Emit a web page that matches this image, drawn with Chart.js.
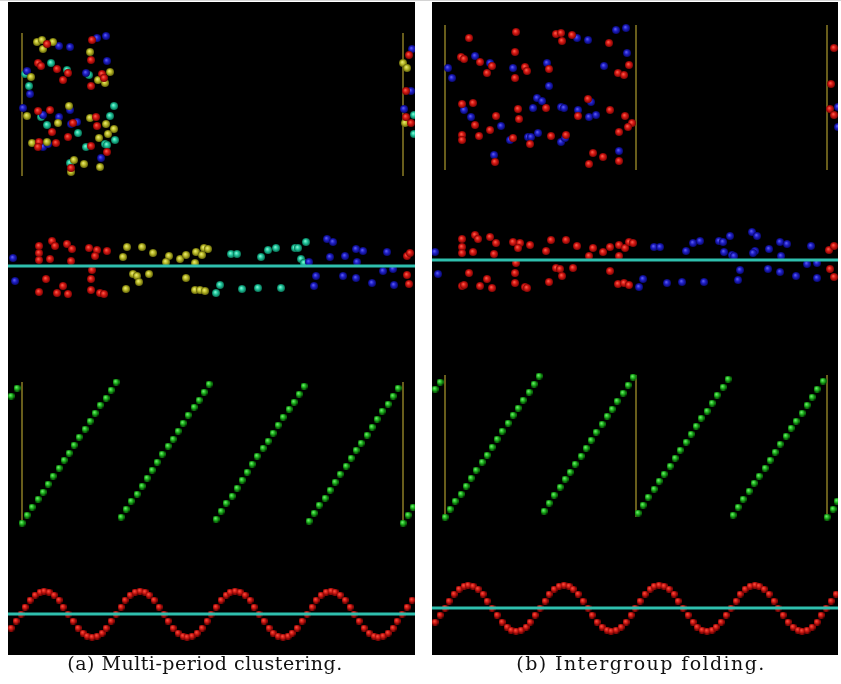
<!DOCTYPE html>
<html>
<head>
<meta charset="utf-8">
<script src="https://cdn.jsdelivr.net/npm/chart.js@4.4.1/dist/chart.umd.min.js"></script>
<style>
  html, body { margin: 0; padding: 0; background: #fff; }
  #wrap { position: relative; width: 841px; height: 684px; overflow: hidden; border-top: 1px solid #d4d4d4; box-sizing: border-box; }
  .panel { position: absolute; top: 1px; height: 653px; background: #000; }
  .panel canvas { display: block; }
  #panelA { left: 8px; width: 407px; }
  #panelB { left: 432px; width: 406px; }
  .caption { position: absolute; top: 651px; font-family: "DejaVu Serif", serif; font-size: 19px; letter-spacing: 0.5px; color: #111; text-align: center; white-space: nowrap; }
</style>
</head>
<body>
<div id="wrap">
  <div class="panel" id="panelA"><canvas id="chartA" width="407" height="653"></canvas></div>
  <div class="panel" id="panelB"><canvas id="chartB" width="406" height="653"></canvas></div>
  <div class="caption" style="left:0;width:410px;">(a) Multi-period clustering.</div>
  <div class="caption" style="left:432px;width:418px;letter-spacing:1.4px;">(b) Intergroup folding.</div>
</div>
<script>
// all values are picture coordinates (x to the right, y downwards), flat x,y lists

// ---- panel (a) ----
const redA = [
  47,44, 92,40, 38,63, 41,66, 91,60, 57,69, 68,73, 102,74, 104,78, 63,80, 91,86, 38,111, 50,110, 96,117,
  73,123, 97,126, 52,132, 68,137, 39,142, 38,147, 56,143, 91,146, 107,152, 71,168,
  409,55, 406,91, 406,117, 411,123,
  39,246, 52,241, 55,246, 39,253, 39,260, 50,259, 67,244, 72,249, 71,261, 89,248, 97,250, 95,256, 107,251,
  92,270, 46,279, 91,279, 63,286, 39,292, 57,293, 68,294, 91,290, 100,293, 104,294,
  407,256, 410,253, 407,275, 409,284
];
const yellowA = [
  37,42, 42,40, 53,42, 43,49, 90,52, 110,72, 31,77, 98,80, 105,83, 69,106, 27,116, 90,118, 58,123, 106,124,
  114,129, 108,134, 99,138, 32,143, 47,142, 74,160, 84,164, 100,167, 71,172,
  403,63, 407,68, 405,123,
  127,247, 142,247, 123,257, 153,253, 169,256, 166,262, 180,259, 186,255, 196,252, 202,255, 204,248, 208,249,
  195,263, 133,274, 137,276, 149,274, 139,282, 186,278, 126,289, 195,290, 200,290, 205,291
];
const blueA = [
  59,46, 70,47, 97,38, 106,36, 107,61, 27,71, 86,73, 30,94, 23,108, 43,115, 59,117, 71,124, 77,122, 43,147,
  48,144, 101,158, 70,110,
  412,49, 411,91, 404,109,
  13,258, 15,281, 327,239, 333,242, 330,257, 309,262, 345,256, 356,249, 363,251, 357,262, 387,252, 316,276,
  314,286, 343,276, 356,278, 372,283, 383,271, 393,269, 394,285
];
const cyanA = [
  51,63, 67,70, 25,74, 89,75, 29,86, 114,106, 41,117, 110,116, 47,125, 78,133, 115,140, 105,144, 107,145,
  86,147, 70,163,
  414,115, 414,134,
  220,285, 216,293, 231,254, 237,254, 242,289, 258,288, 261,257, 268,250, 276,248, 295,248, 298,248, 306,242,
  301,259, 304,263, 281,288
];
const greenA = [
  11,396, 17,388,
  22,523, 27,515, 32,507, 38,499, 43,492, 48,484, 53,476, 59,468, 64,460, 69,453, 74,445, 79,437, 85,429,
  90,421, 95,413, 100,405, 106,398, 111,390, 116,382,
  121,517, 126,509, 131,501, 137,494, 142,486, 147,478, 152,470, 157,462, 162,454, 168,446, 173,439, 178,431,
  183,423, 188,415, 194,407, 199,400, 204,392, 209,384,
  216,519, 221,511, 226,503, 232,496, 237,488, 242,480, 247,472, 252,464, 257,456, 263,448, 268,441, 273,433,
  278,425, 283,417, 289,409, 294,402, 299,394, 304,386,
  309,521, 314,513, 319,505, 325,498, 330,490, 335,482, 340,474, 346,466, 351,458, 356,450, 361,443, 367,435,
  372,427, 377,419, 382,411, 388,404, 393,396, 398,388,
  403,523, 408,515, 413,507
];
const sineXA = [
  11,16,21,25,30,35,40,44,49,54,59,63,68,73,78,83,87,92,97,102,
  106,111,116,121,125,130,135,140,145,149,154,159,164,168,173,178,183,187,192,197,
  202,207,211,216,221,226,230,235,240,245,250,254,259,264,269,273,278,283,288,292,
  297,302,307,312,316,321,326,331,335,340,345,350,354,359,364,369,374,378,383,388,
  393,397,402,407,412
];
const sineYA = [
  628,621,
  614,607,600,595,592,591,592,595,600,607,614,621,628,633,636,637,636,633,628,621,
  614,607,600,595,592,591,592,595,600,607,614,621,628,633,636,637,636,633,628,621,
  614,607,600,595,592,591,592,595,600,607,614,621,628,633,636,637,636,633,628,621,
  614,607,600,595,592,591,592,595,600,607,614,621,628,633,636,637,636,633,628,621,
  614,607,600
];
const levelsA = [266, 614];
const wallsA = [22, 403];
const wallSpansA = [[33, 176], [382, 522]];

// ---- panel (b) ----
const redB = [
  469,38, 516,32, 556,34, 561,33, 562,41, 572,35, 609,43, 461,57, 464,59, 480,62, 492,66, 487,73, 515,52,
  525,67, 527,71, 515,78, 549,69, 629,65, 618,73, 624,75, 462,104, 473,103, 496,116, 518,109, 519,119,
  546,108, 588,99, 578,116, 610,110, 625,116, 632,123, 628,127, 619,132, 475,125, 490,130, 462,135, 462,140,
  479,136, 513,138, 530,144, 551,136, 566,135, 495,162, 593,153, 589,164, 603,157, 619,161,
  834,48, 831,84, 830,109, 834,115,
  462,239, 462,247, 462,253, 475,235, 478,239, 490,237, 496,243, 473,252, 494,254, 513,242, 520,243, 518,248,
  530,245, 551,240, 546,251, 566,240, 577,246, 593,248, 589,256, 603,252, 610,247, 619,245, 625,248, 629,242,
  633,243, 619,256, 516,263, 469,273, 515,273, 556,268, 560,269, 562,276, 573,268, 610,271, 487,279, 462,286,
  464,285, 480,286, 492,288, 515,283, 525,287, 527,288, 549,282, 618,284, 624,283, 629,285,
  829,250, 834,246, 830,269, 834,277
];
const blueB = [
  616,30, 626,28, 577,38, 588,40, 475,56, 490,63, 513,68, 547,63, 448,68, 452,78, 549,86, 604,66, 627,53,
  537,98, 542,101, 464,110, 533,108, 561,107, 564,108, 578,110, 591,102, 589,117, 596,115, 471,117, 501,126,
  510,140, 528,137, 531,137, 538,133, 561,142, 565,138, 494,155, 619,151,
  838,107, 838,127,
  435,252, 438,274, 639,287, 643,279, 654,247, 660,247, 667,283, 682,282, 686,251, 693,243, 700,241, 704,282,
  719,241, 723,242, 730,236, 724,252, 732,255, 734,256, 740,270, 738,280, 752,232, 757,236, 755,251, 753,253,
  769,249, 768,269, 780,242, 787,244, 781,256, 780,272, 796,276, 811,246, 807,264, 817,263, 817,278
];
const greenB = [
  435,389, 440,382,
  445,517, 450,509, 455,501, 461,494, 466,486, 471,478, 476,470, 482,462, 487,455, 492,447, 497,439, 502,431,
  508,423, 513,415, 518,408, 523,400, 529,392, 534,384, 539,376,
  544,511, 549,503, 554,495, 560,487, 565,479, 570,472, 575,464, 581,456, 586,448, 591,440, 596,432, 602,424,
  607,416, 612,409, 617,401, 623,393, 628,385, 633,377,
  638,513, 643,505, 648,497, 654,489, 659,481, 664,474, 670,466, 675,458, 680,450, 686,442, 691,434, 696,426,
  701,418, 707,411, 712,403, 717,395, 723,387, 728,379,
  733,515, 738,507, 743,499, 749,491, 754,483, 759,476, 765,468, 770,460, 775,452, 780,444, 786,436, 791,428,
  796,421, 802,413, 807,405, 812,397, 817,389, 823,381,
  827,517, 833,509, 837,501
];
const sineXB = [
  435,440,445,449,454,459,464,468,473,478,483,487,492,497,502,507,511,516,521,526,
  530,535,540,545,549,554,559,564,569,573,578,583,588,592,597,602,607,611,616,621,
  626,631,635,640,645,650,654,659,664,669,674,678,683,688,693,697,702,707,712,716,
  721,726,731,736,740,745,750,755,759,764,769,774,778,783,788,793,798,802,807,812,
  817,821,826,831,836
];
const sineYB = [
  622,615,
  608,601,594,589,586,585,586,589,594,601,608,615,622,627,630,631,630,627,622,615,
  608,601,594,589,586,585,586,589,594,601,608,615,622,627,630,631,630,627,622,615,
  608,601,594,589,586,585,586,589,594,601,608,615,622,627,630,631,630,627,622,615,
  608,601,594,589,586,585,586,589,594,601,608,615,622,627,630,631,630,627,622,615,
  608,601,594
];
const levelsB = [260, 608];
const wallsB = [445, 636, 827];
const wallSpansB = [[25, 170], [375, 517]];

// shaded little spheres
function makeBall(stops, size) {
  const c = document.createElement('canvas');
  c.width = c.height = size;
  const g = c.getContext('2d');
  const r = size / 2;
  const grad = g.createRadialGradient(r * 0.8, r * 0.75, 0.3, r, r, r);
  grad.addColorStop(0, stops[0]);
  grad.addColorStop(0.45, stops[1]);
  grad.addColorStop(1, stops[2]);
  g.fillStyle = grad;
  g.beginPath();
  g.arc(r, r, r, 0, Math.PI * 2);
  g.fill();
  return c;
}
const red = ['#f85a4a', '#d81a14', '#7a0404'];
const blue = ['#5a5af0', '#2020c8', '#08086a'];
const yellow = ['#e8e870', '#bcbc2a', '#62620a'];
const cyan = ['#80f4d4', '#22c89e', '#086a50'];
const green = ['#80f080', '#22c022', '#086008'];
const balls = {
  red: makeBall(red, 8),
  blue: makeBall(blue, 8),
  yellow: makeBall(yellow, 8),
  cyan: makeBall(cyan, 8),
  green: makeBall(green, 7),
  wave: makeBall(red, 7)
};

function pairs(flat) {
  const out = [];
  for (let i = 0; i < flat.length; i += 2) out.push({ x: flat[i], y: flat[i + 1] });
  return out;
}
function zip(xs, ys) {
  return xs.map((x, i) => ({ x: x, y: ys[i] }));
}
function dots(data, ball) {
  return { data: data, pointStyle: ball, pointRadius: 3.5, showLine: false, order: 1 };
}

function makePanel(id, xMin, xMax, dotSets, levels, walls, spans) {
  const datasets = [];
  // teal reference lines on top
  levels.forEach(y => datasets.push({
    data: [{ x: xMin, y: y }, { x: xMax, y: y }],
    showLine: true, pointRadius: 0, borderColor: '#2fbfae', borderWidth: 3, order: 0
  }));
  dotSets.forEach(d => datasets.push(d));
  // olive walls behind
  walls.forEach(x => spans.forEach(s => datasets.push({
    data: [{ x: x, y: s[0] }, { x: x, y: s[1] }],
    showLine: true, pointRadius: 0, borderColor: '#8a7c24', borderWidth: 1.5, order: 2
  })));

  new Chart(document.getElementById(id), {
    type: 'scatter',
    data: { datasets: datasets },
    options: {
      responsive: false,
      animation: false,
      events: [],
      layout: { padding: 0, autoPadding: false },
      plugins: { legend: { display: false }, tooltip: { enabled: false } },
      scales: {
        x: { type: 'linear', min: xMin, max: xMax, display: false },
        y: { type: 'linear', min: 2, max: 655, reverse: true, display: false }
      }
    }
  });
}

makePanel('chartA', 8, 415, [
  dots(pairs(redA), balls.red),
  dots(pairs(yellowA), balls.yellow),
  dots(pairs(blueA), balls.blue),
  dots(pairs(cyanA), balls.cyan),
  dots(pairs(greenA), balls.green),
  dots(zip(sineXA, sineYA), balls.wave)
], levelsA, wallsA, wallSpansA);

makePanel('chartB', 432, 838, [
  dots(pairs(redB), balls.red),
  dots(pairs(blueB), balls.blue),
  dots(pairs(greenB), balls.green),
  dots(zip(sineXB, sineYB), balls.wave)
], levelsB, wallsB, wallSpansB);
</script>
</body>
</html>
